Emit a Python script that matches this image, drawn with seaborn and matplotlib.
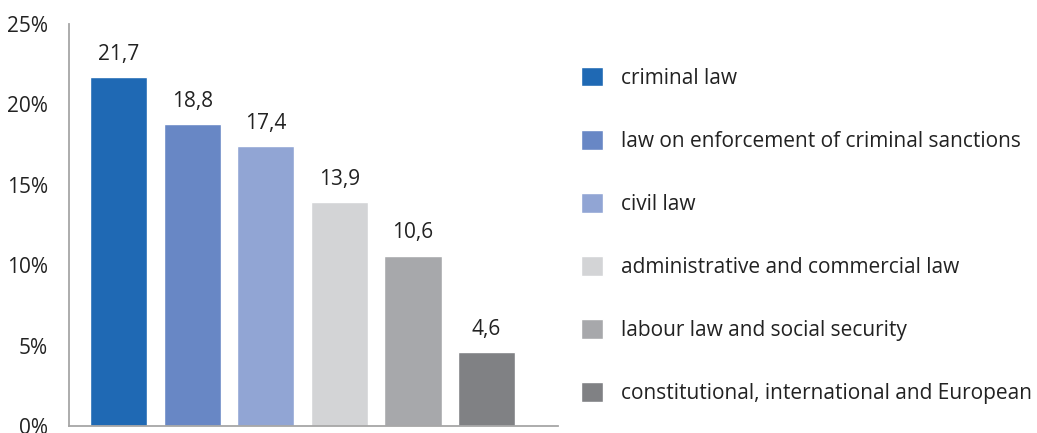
import matplotlib
matplotlib.use("Agg")
import matplotlib.pyplot as plt
import seaborn as sns
import pandas as pd
from matplotlib.ticker import FuncFormatter

categories = ["criminal law",
              "law on enforcement of criminal sanctions",
              "civil law",
              "administrative and commercial law",
              "labour law and social security",
              "constitutional, international and European"]
values = [21.7, 18.8, 17.4, 13.9, 10.6, 4.6]
value_labels = ["21,7", "18,8", "17,4", "13,9", "10,6", "4,6"]
colors = ["#1F69B4", "#6887C5", "#91A5D4", "#D3D4D6", "#A7A8AB", "#808184"]
yticks = [0, 5, 10, 15, 20, 25]

sns.set_style("white")
plt.rcParams['font.family'] = ['Open Sans', 'DejaVu Sans']

df = pd.DataFrame({"cat": categories, "val": values})
fig = plt.figure(figsize=(10.37, 4.33), dpi=100)
ax = fig.add_axes([69/1037, 7/433, (558-69)/1037, (426-24)/433])

sns.barplot(data=df, x="cat", y="val", hue="cat", palette=colors,
            order=categories, hue_order=categories, dodge=False,
            width=0.775, legend=True, ax=ax, saturation=1)

for i, (v, lab) in enumerate(zip(values, value_labels)):
    ax.text(i, v + 0.75, lab, ha="center", va="bottom", fontsize=15, color="#222222")

ax.set_ylim(0, 25)
ax.set_xlim(-0.673, 5.97)
ax.set_yticks(yticks)
ax.yaxis.set_major_formatter(FuncFormatter(lambda v, p: f"{int(v)}%"))
ax.set_xticks([])
ax.set_xlabel("")
ax.set_ylabel("")
ax.tick_params(axis="y", length=0, labelsize=15, labelcolor="#222222", pad=15)
for s in ["top", "right"]:
    ax.spines[s].set_visible(False)
for s in ["left", "bottom"]:
    ax.spines[s].set_color("#A6A6A6")
    ax.spines[s].set_linewidth(1.3)

handles, labels = ax.get_legend_handles_labels()
if ax.legend_:
    ax.legend_.remove()
fig.legend(handles, labels, loc="upper left", bbox_to_anchor=(581/1037, 1 - 67/433),
           frameon=False, fontsize=15, handlelength=1.06, handleheight=1.06,
           handletextpad=0.85, labelspacing=1.98, borderpad=0, borderaxespad=0,
           labelcolor="#222222")

fig.savefig("out.png", dpi=100)
